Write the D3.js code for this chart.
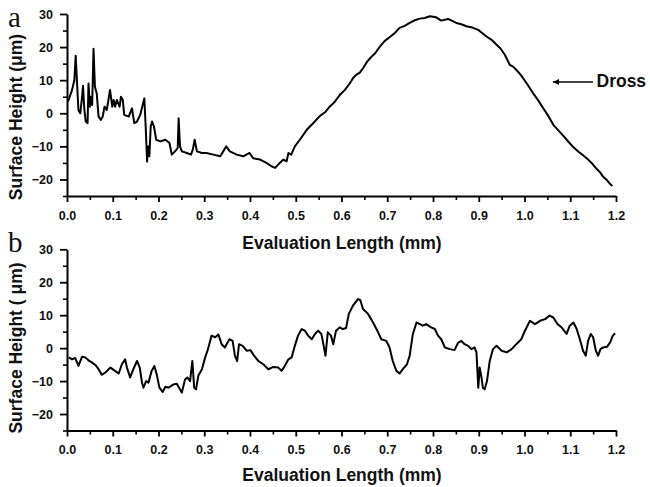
<!DOCTYPE html>
<html><head><meta charset="utf-8">
<script src="https://cdn.jsdelivr.net/npm/d3@7"></script>
<style>body{margin:0;background:#fff}svg{display:block}</style>
</head><body>
<script>
// ---- data ----
const xTicks = [0,0.1,0.2,0.3,0.4,0.5,0.6,0.7,0.8,0.9,1.0,1.1,1.2];
const xMinor = [0.05,0.15,0.25,0.35,0.45,0.55,0.65,0.75,0.85,0.95,1.05,1.15];
const yTicks = [-20,-10,0,10,20,30];
const yMinor = [-25,-15,-5,5,15,25];

const xA = [0.002,0.011,0.016,0.019,0.022,0.025,0.029,0.033,0.035,0.038,0.041,0.045,0.047,0.05,0.052,0.055,0.058,0.061,0.065,0.069,0.074,0.078,0.082,0.087,0.094,0.099,0.102,0.105,0.109,0.115,0.118,0.122,0.125,0.135,0.142,0.147,0.153,0.16,0.169,0.172,0.175,0.177,0.18,0.183,0.186,0.19,0.195,0.204,0.215,0.224,0.229,0.236,0.242,0.244,0.247,0.251,0.262,0.271,0.275,0.279,0.284,0.295,0.305,0.32,0.335,0.348,0.356,0.371,0.385,0.399,0.407,0.422,0.436,0.447,0.455,0.465,0.473,0.48,0.484,0.49,0.498,0.509,0.524,0.538,0.553,0.564,0.574,0.585,0.596,0.607,0.618,0.625,0.632,0.64,0.647,0.656,0.665,0.674,0.683,0.694,0.705,0.716,0.727,0.738,0.749,0.76,0.771,0.782,0.793,0.807,0.818,0.833,0.842,0.851,0.862,0.873,0.886,0.899,0.908,0.917,0.928,0.939,0.948,0.957,0.968,0.975,0.983,0.99,0.997,1.008,1.019,1.03,1.041,1.052,1.063,1.077,1.086,1.096,1.107,1.118,1.128,1.139,1.148,1.157,1.165,1.172,1.18,1.186,1.192];
const yA = [3.5,7,10,17.4,9,1,0,5,8.3,1,-2.5,-3,9,2,5,2.5,19.5,8,6,-1,-2,-1,2,1,7,2,4,2,4,2,5,4,-0.5,-1,1.5,-3,-2.5,-0.5,4.5,-4,-14.6,-10,-13,-4,-2.5,-4,-8,-8.5,-8,-9,-12.5,-11.5,-10.5,-1.5,-10,-11.5,-12,-12.5,-11,-8,-11.5,-12,-12,-12.5,-13,-10,-11.5,-12.5,-13,-12,-13.6,-14,-15,-16,-16.5,-15,-14,-14.5,-12,-12.5,-10,-8,-5,-3,-0.8,0.3,2,3.4,5.5,7,9,10.6,11.6,12.3,13.6,15.6,17,18.2,20,21.8,23,24.2,25.8,26.4,27.3,28.1,28.6,28.8,29.3,29,28,28.5,27.9,27.3,26.9,26.3,25.9,25.2,24.2,23.2,22.2,20.7,19.5,17.7,14.6,14.1,13,11.9,10.6,8.4,6,3.9,1.5,-0.8,-3.5,-5.6,-7,-8.6,-10.3,-11.6,-12.7,-14,-15.2,-16.7,-17.8,-19.2,-20.2,-21.2,-22];

const xB = [0.004,0.011,0.018,0.025,0.033,0.04,0.047,0.055,0.062,0.069,0.076,0.084,0.095,0.105,0.113,0.12,0.127,0.131,0.138,0.145,0.153,0.159,0.164,0.167,0.173,0.178,0.185,0.191,0.196,0.202,0.209,0.215,0.222,0.233,0.24,0.251,0.258,0.263,0.269,0.274,0.278,0.282,0.287,0.295,0.302,0.307,0.311,0.316,0.324,0.331,0.338,0.345,0.355,0.362,0.367,0.372,0.376,0.384,0.393,0.401,0.409,0.418,0.429,0.44,0.451,0.462,0.469,0.476,0.484,0.491,0.498,0.505,0.513,0.52,0.527,0.535,0.542,0.549,0.556,0.559,0.565,0.57,0.577,0.582,0.588,0.596,0.603,0.61,0.616,0.625,0.636,0.641,0.647,0.658,0.669,0.68,0.687,0.698,0.705,0.712,0.72,0.727,0.734,0.743,0.749,0.756,0.764,0.771,0.778,0.785,0.796,0.804,0.811,0.818,0.826,0.837,0.847,0.855,0.862,0.869,0.877,0.884,0.891,0.895,0.899,0.902,0.906,0.909,0.913,0.918,0.924,0.931,0.939,0.95,0.961,0.972,0.982,0.993,1.001,1.012,1.023,1.034,1.045,1.055,1.063,1.072,1.081,1.092,1.099,1.107,1.114,1.121,1.128,1.134,1.139,1.145,1.15,1.156,1.161,1.166,1.172,1.18,1.187,1.193,1.198];
const yB = [-2.8,-3.4,-3,-5.4,-2.6,-2.8,-3.7,-4.4,-5.1,-6.4,-8.1,-7.4,-5.9,-6.9,-7.7,-4.9,-3.4,-5.9,-8.9,-6.4,-3.9,-5.9,-10.5,-12,-10,-10.5,-6.9,-5.4,-7.9,-12,-13.3,-11.7,-12,-11,-10.8,-13.5,-9.5,-8.9,-10,-3.9,-12,-12.5,-8.4,-6.4,-2.8,-0.8,1.2,3.8,3.3,4.1,1.2,0.2,2.7,2.2,-2.3,-3.9,1.2,0.7,-0.8,-0.6,-2.3,-3.9,-4.9,-6.4,-5.7,-5.9,-6.9,-5.4,-3.4,-2.8,0.7,3.8,5.8,5.3,3.8,2.7,4.3,5.3,4.3,2.2,-2.3,4.8,3.8,1.2,5.3,6.3,5.8,6.1,10.4,12.9,14.9,14.6,11.9,10.4,7.8,4.8,2.7,2.2,0.2,-3.9,-6.9,-7.7,-6.4,-4.9,-2.3,4.3,7.8,7.3,6.8,7.3,6.3,5.8,3.8,2.7,0.2,-0.3,-0.6,1.7,2.2,1.2,0.7,-0.3,0.2,-1.3,-12,-5.9,-8.9,-12,-12.5,-10,-3.9,-0.3,0.7,-0.8,-1.3,-0.3,1.2,2.7,5.3,8.3,7.3,8.3,8.8,9.9,9.3,7.3,6.3,4.3,6.8,7.8,5.8,2.7,-0.8,-2.3,2.2,4.3,3.3,-0.8,-2.3,-0.3,0.2,0.4,1.7,3.8,4.5];

const xTitle = "Evaluation Length (mm)";
const yTitleA = "Surface Height (μm)";
const yTitleB = "Surface Height ( μm)";

// ---- drawing ----
const W = 650, H = 487;
const svg = d3.select("body").append("svg").attr("width", W).attr("height", H);
const FONT = "Liberation Sans, Arial, sans-serif";

function panel(p) {
  const x = d3.scaleLinear().domain([0, 1.2]).range([67, 616]);
  const y = d3.scaleLinear().domain([-25, 30]).range([p.yBottom, p.yTop]);
  const g = svg.append("g");

  g.append("g").attr("transform", `translate(0,${p.yBottom})`)
    .call(d3.axisBottom(x).tickValues(xMinor).tickSize(4).tickFormat("").tickSizeOuter(0))
    .call(s => s.select(".domain").remove())
    .call(s => s.selectAll("line").attr("stroke-width", 1.6));
  g.append("g").attr("transform", `translate(67,0)`)
    .call(d3.axisLeft(y).tickValues(yMinor).tickSize(4).tickFormat("").tickSizeOuter(0))
    .call(s => s.select(".domain").remove())
    .call(s => s.selectAll("line").attr("stroke-width", 1.6));

  const gx = g.append("g").attr("transform", `translate(0,${p.yBottom})`)
    .call(d3.axisBottom(x).tickValues(xTicks).tickSize(6).tickPadding(9).tickFormat(d3.format(".1f")).tickSizeOuter(0));
  const gy = g.append("g").attr("transform", `translate(67,0)`)
    .call(d3.axisLeft(y).tickValues(yTicks).tickSize(7).tickPadding(7).tickFormat(d3.format("d")).tickSizeOuter(0));
  [gx, gy].forEach(a => {
    a.select(".domain").attr("stroke-width", 2);
    a.selectAll("line").attr("stroke-width", 1.8);
    a.selectAll("text").attr("font-family", FONT).attr("font-weight", "bold")
      .attr("font-size", 12.5).attr("fill", "#111");
  });

  const line = d3.line().x((d, i) => x(p.xs[i])).y((d, i) => y(p.ys[i]));
  g.append("path").datum(p.ys).attr("d", line).attr("fill", "none")
    .attr("stroke", "#000").attr("stroke-width", 2).attr("stroke-linejoin", "round");

  g.append("text").attr("x", 342).attr("y", p.xTitleY).attr("text-anchor", "middle")
    .attr("font-family", FONT).attr("font-weight", "bold").attr("font-size", 17.5)
    .attr("fill", "#111").text(xTitle);
  g.append("text").attr("transform", `translate(22,${p.yTitleC}) rotate(-90)`)
    .attr("text-anchor", "middle").attr("font-family", FONT).attr("font-weight", "bold")
    .attr("font-size", 17.5).attr("fill", "#111").text(p.yTitle);
  g.append("text").attr("x", 8).attr("y", p.letterY).attr("font-family", "Liberation Serif, Times New Roman, serif")
    .attr("font-size", 29).attr("fill", "#111").text(p.letter);
}

panel({yTop: 14, yBottom: 196, xs: xA, ys: yA, xTitleY: 248.5, yTitle: yTitleA, yTitleC: 117, letter: "a", letterY: 27});
panel({yTop: 249.3, yBottom: 430.5, xs: xB, ys: yB, xTitleY: 481, yTitle: yTitleB, yTitleC: 348, letter: "b", letterY: 252});

// Dross annotation
svg.append("defs").append("marker").attr("id", "ah").attr("viewBox", "0 0 10 10")
  .attr("refX", 10).attr("refY", 5).attr("markerUnits", "userSpaceOnUse")
  .attr("markerWidth", 8).attr("markerHeight", 6).attr("orient", "auto")
  .append("path").attr("d", "M0,0 L10,5 L0,10 Z").attr("fill", "#000");
svg.append("line").attr("x1", 593).attr("x2", 553).attr("y1", 82).attr("y2", 82)
  .attr("stroke", "#000").attr("stroke-width", 1.6).attr("marker-end", "url(#ah)");
svg.append("text").attr("x", 596.5).attr("y", 87).attr("font-family", FONT).attr("font-weight", "bold")
  .attr("font-size", 17.5).attr("fill", "#111").text("Dross");
</script>
</body></html>
